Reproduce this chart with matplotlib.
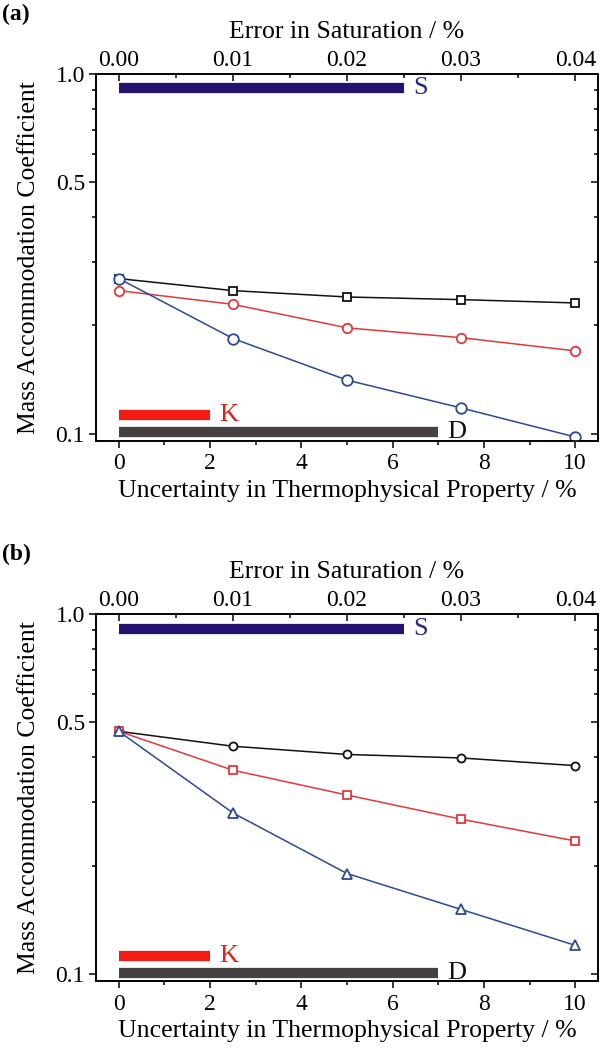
import numpy as np
import matplotlib.pyplot as plt
from matplotlib.ticker import FixedLocator, NullFormatter, FormatStrFormatter, MultipleLocator

plt.rcParams['font.family'] = ['Liberation Serif', 'DejaVu Serif']

# x values (uncertainty in thermophysical property, %)
uncertainty = [0, 2.5, 5, 7.5, 10]

# panel (a)
a_black = [0.270, 0.250, 0.240, 0.236, 0.231]
a_red = [0.250, 0.229, 0.197, 0.185, 0.170]
a_blue = [0.270, 0.184, 0.141, 0.118, 0.098]

# panel (b)
b_black = [0.472, 0.429, 0.407, 0.398, 0.379]
b_red = [0.472, 0.368, 0.314, 0.269, 0.234]
b_blue = [0.472, 0.280, 0.190, 0.151, 0.120]

# range bars
bar_names = ['S', 'K', 'D']
bar_ends = [6.25, 2.0, 7.0]
a_bar_levels = [0.914, 0.1126, 0.1013]
b_bar_levels = [0.908, 0.112, 0.1004]
bar_colors = ['#25116e', '#f21c14', '#454141']
bar_text_colors = ['#2a2a7e', '#e0201a', '#111111']

line_black = '#111111'
line_red = '#e2383a'
line_blue = '#2b4a94'

fig = plt.figure(figsize=(6, 10.49), dpi=100)


def setup_axes(ax, black, red, blue, bar_levels, markers, sizes):
    mk_black, mk_red, mk_blue = markers
    s_black, s_red, s_blue = sizes
    ax.plot(uncertainty, black, color=line_black, lw=1.1, marker=mk_black, ms=s_black,
            mfc='white', mec=line_black, mew=1.3, zorder=3)
    ax.plot(uncertainty, red, color=line_red, lw=1.1, marker=mk_red, ms=s_red,
            mfc='white', mec=line_red, mew=1.3, zorder=3)
    ax.plot(uncertainty, blue, color=line_blue, lw=1.1, marker=mk_blue, ms=s_blue,
            mfc='white', mec=line_blue, mew=1.3, zorder=4)

    for name, end, lev, c, tc in zip(bar_names, bar_ends, bar_levels, bar_colors, bar_text_colors):
        ax.hlines(lev, 0, end, color=c, lw=7.4, zorder=2)
        ax.text(end + 0.2, lev, name, color=tc, fontsize=19, va='center', ha='left')

    ax.set_yscale('log')
    ax.set_ylim(0.0955, 1.0)
    ax.set_xlim(-0.5, 10.5)
    ax.yaxis.set_major_locator(FixedLocator([0.1, 0.5, 1.0]))
    ax.yaxis.set_major_formatter(FormatStrFormatter('%.1f'))
    ax.yaxis.set_minor_locator(FixedLocator([0.2, 0.3, 0.4, 0.6, 0.7, 0.8, 0.9]))
    ax.yaxis.set_minor_formatter(NullFormatter())
    ax.xaxis.set_major_locator(MultipleLocator(2))
    ax.xaxis.set_minor_locator(MultipleLocator(1))

    ax.tick_params(axis='both', which='both', labelsize=17, width=1.1)
    ax.tick_params(axis='y', which='both', direction='out', right=True, pad=3)
    ax.tick_params(axis='x', which='both', direction='out', pad=4)
    ax.tick_params(which='major', length=5)
    ax.tick_params(which='minor', length=3)
    for s in ax.spines.values():
        s.set_linewidth(1.2)

    ax.set_xlabel('Uncertainty in Thermophysical Property / %', fontsize=18.5)
    ax.xaxis.set_label_coords(0.5, -0.105)
    ax.set_ylabel('Mass Accommodation Coefficient', fontsize=18.5)
    ax.yaxis.set_label_coords(-0.112, 0.5)

    top = ax.twiny()
    top.set_xlim(-0.5 * 0.004, 10.5 * 0.004)
    top.xaxis.set_major_locator(MultipleLocator(0.01))
    top.xaxis.set_minor_locator(MultipleLocator(0.005))
    top.xaxis.set_major_formatter(FormatStrFormatter('%.2f'))
    top.tick_params(axis='x', which='both', direction='in', labelsize=17, width=1.1, pad=2)
    top.tick_params(which='major', length=5)
    top.tick_params(which='minor', length=3)
    top.set_xlabel('Error in Saturation / %', fontsize=18.5, labelpad=9)
    for s in top.spines.values():
        s.set_linewidth(1.2)

    # right-side ticks point inward
    for t in ax.yaxis.get_major_ticks() + ax.yaxis.get_minor_ticks():
        t.tick2line.set_marker(0)


ax_a = fig.add_axes([0.16, 0.5796, 0.8367, 0.3499])
setup_axes(ax_a, a_black, a_red, a_blue, a_bar_levels, ('s', 'o', 'o'), (5.4, 6.8, 7.6))

ax_b = fig.add_axes([0.16, 0.0648, 0.8367, 0.3499])
setup_axes(ax_b, b_black, b_red, b_blue, b_bar_levels, ('o', 's', '^'), (5.8, 5.6, 7.8))

fig.text(0.004, 0.986, '(a)', fontsize=17, fontweight='bold', va='center', ha='left')
fig.text(0.004, 0.471, '(b)', fontsize=17, fontweight='bold', va='center', ha='left')

fig.savefig('out.png', dpi=100)
